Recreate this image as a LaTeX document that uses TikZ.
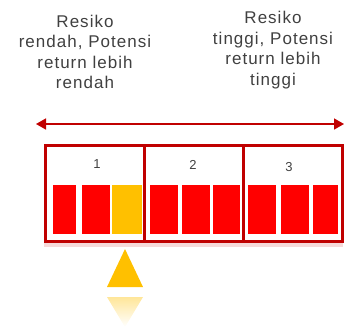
\documentclass[tikz,border=0pt]{standalone}
\usepackage{fontspec}
\setmainfont{Liberation Sans}
\newfontfamily\lblfont[LetterSpace=6]{Liberation Sans}
\usetikzlibrary{arrows.meta,fadings}
\definecolor{dred}{HTML}{C00000}
\definecolor{bred}{HTML}{FF0000}
\definecolor{gold}{HTML}{FFC000}
\definecolor{txt}{HTML}{404040}
\begin{document}
\begin{tikzpicture}[x=1pt,y=-1pt,
  label/.style={font=\lblfont\fontsize{17}{20.5}\selectfont,text=txt,align=center,inner sep=0pt},
  num/.style={font=\fontsize{13}{15}\selectfont,text=txt,inner sep=0pt},
  box/.style={draw=dred,line width=3pt},
  barbox/.style={fill=bred},
  goldbox/.style={fill=gold}]
\useasboundingbox (0,0) rectangle (350,327);
% texts
\node[label] (lt) at (85,52) {Resiko\\rendah, Potensi\\return lebih\\rendah};
\node[label] (rt) at (273,50) {Resiko\\tinggi, Potensi\\return lebih\\tinggi};
% arrow
\coordinate (al) at (36,124);
\coordinate (ar) at (344,124);
\draw[dred,line width=1.6pt,{Triangle[length=10pt,width=11pt]}-{Triangle[length=10pt,width=11pt]}] (al) -- (ar);
% reflection of frame
\fill[dred!15] (44,242) rectangle (343,247);
% bars
\foreach \a/\b in {53/76,82/110,150/178,182/210,213/240,248/276,281/309,313/338}
  \fill[barbox] (\a,185) rectangle (\b,234);
\fill[goldbox] (112,185) rectangle (142,234);
% boxes
\draw[box] (45,145) rectangle (144,241);
\draw[box] (144,145) rectangle (243,241);
\draw[box] (243,145) rectangle (342,241);
\node[num] (n1) at (97,164) {1};
\node[num] (n2) at (193,165) {2};
\node[num] (n3) at (289,167) {3};
% pointer
\fill[gold] (125,249) -- (143,287) -- (107,287) -- cycle;
\fill[gold,path fading=south,opacity=0.4] (107,297) -- (143,297) -- (125,327) -- cycle;
\end{tikzpicture}
\end{document}
